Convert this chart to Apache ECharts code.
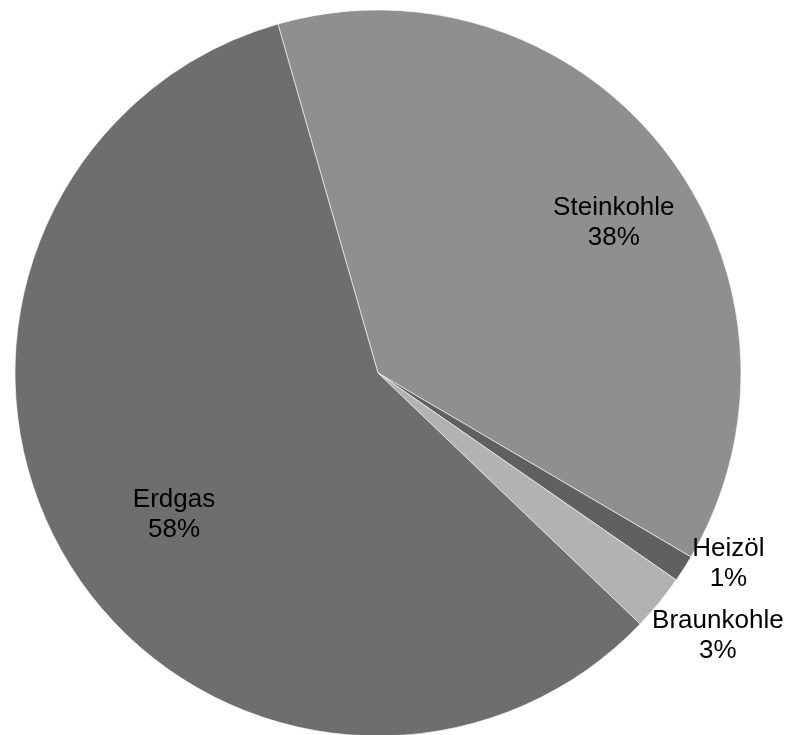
<!DOCTYPE html>
<html>
<head>
<meta charset="utf-8">
<script src="https://cdn.jsdelivr.net/npm/echarts@6/dist/echarts.min.js"></script>
<style>
html,body{margin:0;padding:0;background:#fff;}
#chart{width:787px;height:735px;}
</style>
</head>
<body>
<div id="chart"></div>
<script>
const categories = ['Steinkohle', 'Heizöl', 'Braunkohle', 'Erdgas'];
const values = [37.9, 1.2, 2.5, 58.4];
const colors = ['#8f8f8f', '#606060', '#b2b2b2', '#6e6e6e'];
const labelOffsets = [[90, -37], [195, 91], [197, 146], [-46, 46]];

const chart = echarts.init(document.getElementById('chart'), null, {renderer: 'canvas'});
chart.setOption({
  animation: false,
  backgroundColor: '#ffffff',
  series: [{
    type: 'pie',
    center: [378, 373],
    radius: [0, 363],
    startAngle: 106,
    clockwise: true,
    avoidLabelOverlap: false,
    percentPrecision: 0,
    itemStyle: {borderColor: '#ffffff', borderWidth: 0.6},
    labelLine: {show: false},
    emphasis: {disabled: true},
    label: {
      show: true,
      position: 'inside',
      formatter: '{b}\n{d}%',
      fontFamily: '"Liberation Sans", Arial, sans-serif',
      fontSize: 26,
      lineHeight: 30,
      color: '#000000',
      align: 'center',
      verticalAlign: 'middle'
    },
    data: categories.map((c, i) => ({
      name: c,
      value: values[i],
      itemStyle: {color: colors[i]},
      label: {offset: labelOffsets[i]}
    }))
  }]
});
</script>
</body>
</html>
